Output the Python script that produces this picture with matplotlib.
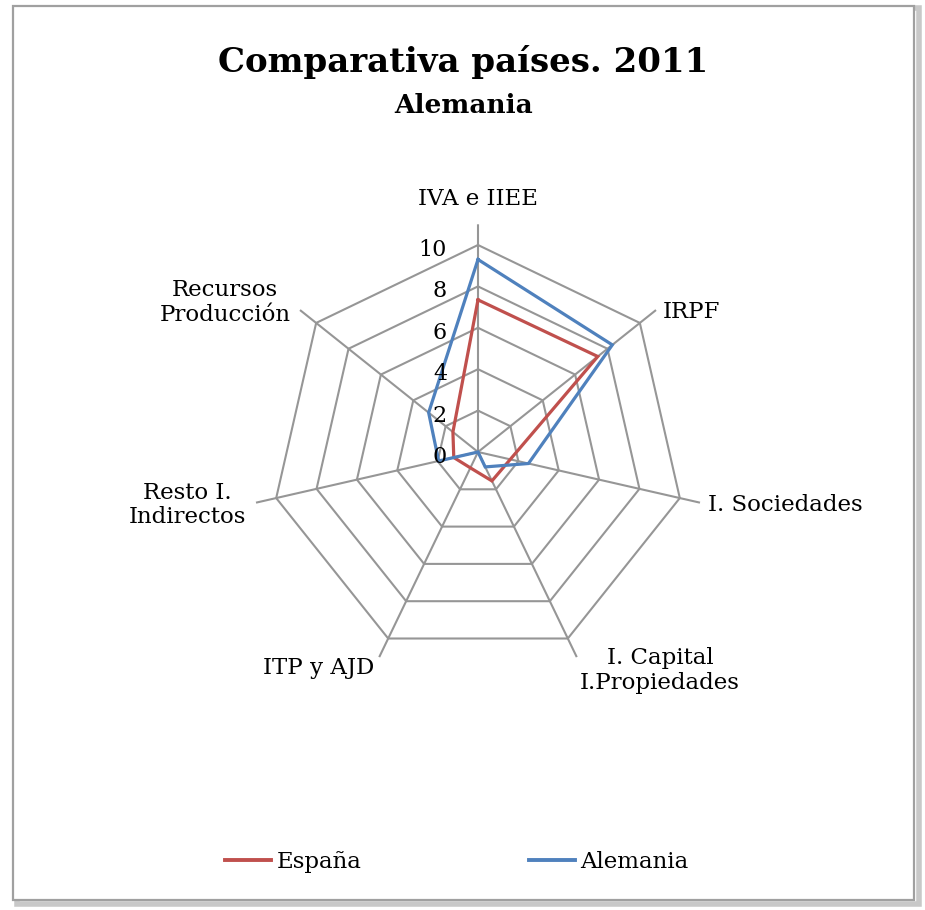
import numpy as np
import matplotlib
matplotlib.use('Agg')
import matplotlib.pyplot as plt
from matplotlib.patches import Rectangle
from matplotlib.lines import Line2D
from matplotlib.transforms import offset_copy

# Datos
categorias = ['IVA e IIEE', 'IRPF', 'I. Sociedades', 'I. Capital\nI.Propiedades',
              'ITP y AJD', 'Resto I.\nIndirectos', 'Recursos\nProducción']
espana = [7.35, 7.4, 1.6, 1.55, 0.85, 1.2, 1.55]
alemania = [9.3, 8.3, 2.5, 0.8, 0.0, 1.95, 3.05]
ticks = [0, 2, 4, 6, 8, 10]

rojo = '#C0504D'
azul = '#4F81BD'
gris = '#969696'

plt.rcParams['font.family'] = 'DejaVu Serif'

fig = plt.figure(figsize=(9.25, 9.1), dpi=100)
W, H = 925, 910

# Marco exterior con sombra
fig.patches.append(Rectangle((17 / W, 1 - 904 / H), 902 / W, 896 / H, transform=fig.transFigure,
                             facecolor='none', edgecolor='#c8c8c8', lw=4, zorder=-2))
fig.patches.append(Rectangle((13 / W, 1 - 900 / H), 901 / W, 894 / H, transform=fig.transFigure,
                             facecolor='white', edgecolor='#a0a0a0', lw=1.6, zorder=-1))

# Ejes polares: centro (478, 452), radio 10 -> 207 px
rmax = 11
R = rmax * 20.7
ax = fig.add_axes([(478 - R) / W, (H - 452 - R) / H, 2 * R / W, 2 * R / H], projection='polar')
ax.set_theta_offset(np.pi / 2)
ax.set_theta_direction(-1)
ax.set_ylim(0, rmax)
ax.grid(False)
ax.spines['polar'].set_visible(False)
ax.set_xticks([])
ax.set_yticks([])
ax.patch.set_alpha(0)

n = len(categorias)
ang = np.arange(n) * 2 * np.pi / n
ang_c = np.append(ang, ang[0])

# Anillos y radios
for t in ticks[1:]:
    ax.plot(ang_c, [t] * (n + 1), color=gris, lw=1.5, zorder=1)
for a in ang:
    ax.plot([a, a], [0, rmax], color=gris, lw=1.5, zorder=1)

# Series
ax.plot(ang_c, espana + espana[:1], color=rojo, lw=2.3, zorder=3, solid_joinstyle='miter')
ax.plot(ang_c, alemania + alemania[:1], color=azul, lw=2.3, zorder=4, solid_joinstyle='miter')

# Etiquetas del eje radial
tr = offset_copy(ax.transData, fig=fig, x=-31, y=-5, units='dots')
for t in ticks:
    ax.text(0, t, str(t), transform=tr, ha='right', va='center', fontsize=16, zorder=5)

# Etiquetas de categorías (radio, alineación, desplazamiento en px)
pos = [(12.2, 'center', (0, 0)), (11.4, 'left', (0, -7)), (11.4, 'left', (0, 0)),
       (11.6, 'left', (-2, -2)), (11.5, 'right', (0, -2)), (11.5, 'right', (0, 0)),
       (11.6, 'right', (0, 0))]
for a, cat, (r, ha, off) in zip(ang, categorias, pos):
    ax.annotate(cat, xy=(a, r), xytext=off, textcoords='offset pixels', ha=ha, va='center',
                fontsize=16.5, multialignment='center', linespacing=1.15,
                annotation_clip=False)

# Títulos
fig.text(0.5005, 1 - 72 / H, 'Comparativa países. 2011', ha='center', va='baseline',
         fontsize=24.5, fontweight='bold')
fig.text(0.5015, 1 - 113 / H, 'Alemania', ha='center', va='baseline',
         fontsize=19, fontweight='bold')

# Leyenda
handles = [Line2D([], [], color=rojo, lw=2.8), Line2D([], [], color=azul, lw=2.8)]
fig.legend(handles, ['España', 'Alemania'], loc='center', bbox_to_anchor=(0.494, 1 - 862 / H),
           ncol=2, frameon=False, fontsize=16.5, handlelength=2.0, handletextpad=0.25,
           columnspacing=7.3)

fig.savefig('out.png', dpi=100)
